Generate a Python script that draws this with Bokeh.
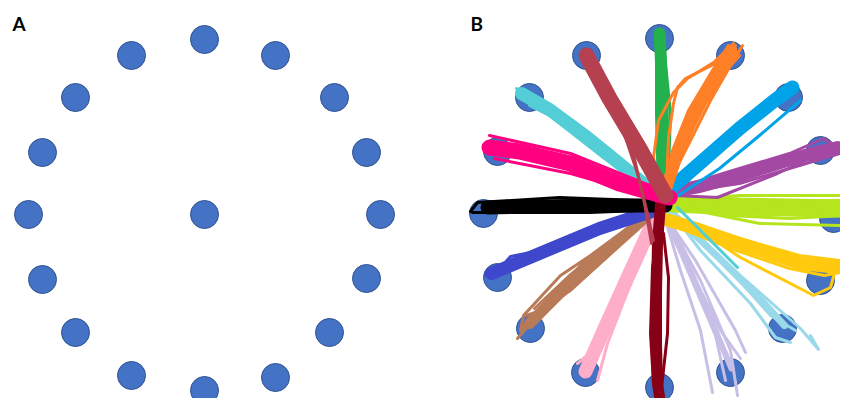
from bokeh.plotting import figure
from bokeh.layouts import row
from bokeh.models import Range1d
from bokeh.core.properties import value
from bokeh.embed import file_html
from bokeh.resources import INLINE

# ---------------- data (pixels relative to the start position, y up) ----------------
panel_labels = ["A", "B"]

target_a_x = [0, 71, 130, 162, 176, 162, 125, 71, 0, -73, -129, -162, -176, -162, -129, -73]
target_a_y = [175, 159, 117, 62, 0, -64, -118, -163, -176, -161, -118, -65, 0, 62, 117, 159]
centre_a_x = [0]
centre_a_y = [0]

target_b_x = [0, 71, 129, 161, 174, 161, 123, 71, 0, -74, -129, -162, -176, -162, -130, -73]
target_b_y = [175, 158, 116, 63, -5, -67, -115, -159, -174, -159, -115, -64, 0, 62, 116, 158]

# each list: first path = dense bundle core, the rest = single trajectories
green = [
    [(4, 10), (4, 63), (3, 113), (1, 163), (0, 180)],
    [(-1, 15), (-3, 100), (-3, 170), (-2, 183)],
    [(8, 15), (11, 100), (6, 150), (3, 178)],
]
orange = [
    [(7, 26), (19, 63), (36, 103), (57, 140), (72, 162)],
    [(8, 28), (21, 63), (41, 103), (61, 138), (76, 165)],
    [(6, 28), (13, 63), (29, 103), (53, 143), (69, 168)],
    [(9, 30), (31, 73), (51, 113), (71, 148), (83, 168)],
    [(1, 13), (-6, 56), (-1, 93), (14, 121), (28, 135), (54, 151), (74, 170)],
    [(7, 28), (9, 76), (14, 110), (18, 126), (26, 135), (58, 151), (76, 168)],
    [(10, 24), (26, 70), (46, 110), (66, 142), (80, 158)],
]
blue = [
    [(9, 23), (40, 50), (80, 85), (115, 113), (133, 126)],
    [(11, 13), (60, 45), (100, 78), (141, 113)],
    [(8, 28), (50, 65), (100, 100), (125, 123), (137, 130)],
]
purple = [
    [(11, 22), (40, 27), (74, 36), (124, 52), (160, 62), (178, 66)],
    [(15, 18), (58, 16), (118, 40), (150, 55)],
    [(12, 24), (70, 42), (130, 60), (164, 75), (172, 70)],
    [(12, 20), (80, 30), (140, 48), (180, 60)],
]
lime = [
    [(14, 10), (80, 7), (185, 5)],
    [(14, 13), (80, 18), (185, 18)],
    [(14, 11), (80, 12), (185, 13)],
    [(14, 9), (70, -2), (130, -5), (185, -2)],
    [(16, 7), (100, -10), (185, -12)],
]
yellow = [
    [(3, -5), (30, -13), (74, -28), (141, -50), (178, -54)],
    [(3, -5), (60, -30), (81, -44), (154, -82), (171, -74), (176, -56)],
    [(5, -3), (70, -22), (140, -42), (180, -47)],
    [(4, -8), (74, -36), (130, -55), (165, -62), (181, -59)],
]
lightblue = [
    [(9, 4), (60, -45), (100, -85), (125, -112)],
    [(9, 5), (61, -45), (106, -92), (126, -114)],
    [(9, 5), (41, -37), (91, -90), (116, -124), (131, -129)],
    [(9, 5), (81, -62), (141, -115), (159, -136), (151, -122)],
    [(7, 3), (71, -57), (111, -102), (136, -117)],
]
lavender = [
    [(5, -2), (30, -55), (55, -115), (72, -155)],
    [(4, 0), (31, -57), (61, -117), (81, -145)],
    [(4, 0), (21, -57), (41, -117), (53, -179)],
    [(6, -2), (41, -67), (71, -137), (78, -182)],
    [(4, 0), (36, -47), (76, -117), (86, -139)],
    [(5, -1), (26, -52), (56, -122), (66, -167)],
]
darkred = [
    [(1, 10), (-2, -30), (-3, -80), (-3, -130), (-2, -170), (0, -183)],
    [(-2, -20), (-7, -54), (-9, -120), (-6, -170), (0, -185)],
    [(4, -20), (9, -64), (8, -120), (1, -184)],
]
pink = [
    [(-4, -3), (-30, -60), (-55, -115), (-74, -158)],
    [(-2, 0), (-25, -60), (-52, -130), (-62, -167)],
    [(-6, -3), (-40, -75), (-70, -140), (-82, -150)],
]
brown = [
    [(-12, -2), (-60, -45), (-100, -80), (-130, -110)],
    [(-11, 0), (-59, -37), (-94, -72), (-129, -105), (-139, -117)],
    [(-14, -2), (-79, -52), (-114, -92), (-142, -125)],
    [(-11, 0), (-54, -45), (-89, -77), (-124, -99), (-134, -102)],
    [(-19, -5), (-69, -42), (-99, -62), (-136, -102), (-139, -117)],
    [(-10, 2), (-50, -30), (-90, -62), (-125, -95)],
]
indigo = [
    [(-8, 2), (-60, -15), (-120, -40), (-168, -60)],
    [(-9, 3), (-59, -12), (-119, -35), (-159, -52), (-174, -62)],
    [(-9, 1), (-69, -19), (-129, -45), (-164, -62)],
    [(-14, 3), (-59, -12), (-119, -37), (-149, -43), (-157, -52), (-172, -62)],
]
black = [
    [(6, 8), (-60, 8), (-120, 7), (-172, 6)],
    [(6, 12), (-100, 16), (-182, 11), (-189, 2)],
    [(6, 4), (-70, 1), (-160, 1), (-187, 1)],
]
cyan = [
    [(-2, 18), (-40, 50), (-72, 76), (-110, 104), (-138, 120)],
    [(-4, 22), (-60, 70), (-120, 113), (-143, 125)],
    [(0, 15), (-55, 55), (-110, 98), (-130, 108)],
    [(18, 6), (78, -54)],
]
magenta = [
    [(10, 16), (-40, 30), (-89, 50), (-140, 62), (-170, 66)],
    [(10, 20), (-89, 60), (-170, 78)],
    [(10, 12), (-89, 40), (-165, 55)],
]
rose = [
    [(6, 18), (-20, 65), (-50, 115), (-73, 158)],
    [(-73, 158), (-52, 123), (-32, 70), (-22, 40), (-12, 0), (-6, -27)],
    [(-70, 155), (-45, 105), (-25, 55), (-15, 10), (-8, -30)],
    [(-78, 160), (-55, 120), (-20, 60), (4, 20)],
]

# ---------------- styles ----------------
TARGET_FILL = "#4472C4"
TARGET_LINE = "#2F528F"
bundles = [  # (paths, colour, core width) in drawing order
    (lavender, "#C8BFE7", 6),
    (lightblue, "#99D9EA", 7),
    (yellow, "#FFC90E", 13),
    (lime, "#B5E61D", 18),
    (purple, "#A349A4", 13),
    (blue, "#00A2E8", 14),
    (green, "#22B14C", 12),
    (orange, "#FF7F27", 12),
    (pink, "#FFAEC9", 14),
    (brown, "#B97A57", 11),
    (indigo, "#3F48CC", 13),
    (black, "#000000", 14),
    (darkred, "#880015", 11),
    (cyan, "#54CED6", 13),
    (magenta, "#FF0080", 16),
    (rose, "#B5404F", 16),
]

H = 398
WA, WB = 459, 381


def base_fig(w, xr, yr):
    p = figure(width=w, height=H, x_range=Range1d(*xr), y_range=Range1d(*yr),
               output_backend="svg", toolbar_location=None, min_border=0,
               background_fill_color="white", border_fill_color="white")
    p.axis.visible = False
    p.grid.visible = False
    p.outline_line_color = None
    return p


pa = base_fig(WA, (-204, WA - 204), (214 - H, 214))
pa.scatter(target_a_x + centre_a_x, target_a_y + centre_a_y, size=28,
           fill_color=TARGET_FILL, line_color=TARGET_LINE, line_width=1)
pa.text(x=[-192], y=[203], text=[panel_labels[0]], text_font=value("Lato"),
        text_font_style="bold", text_font_size="19px", text_baseline="top",
        text_align="left", text_color="black")

pb = base_fig(WB, (-200, WB - 200), (213 - H, 213))
pb.scatter(target_b_x, target_b_y, size=28,
           fill_color=TARGET_FILL, line_color=TARGET_LINE, line_width=1)
for paths, col, w in bundles:
    core = paths[0]
    pb.line([q[0] for q in core], [q[1] for q in core], line_color=col,
            line_width=w, line_cap="round", line_join="round")
    strands = paths[1:]
    pb.multi_line([[q[0] for q in s] for s in strands],
                  [[q[1] for q in s] for s in strands],
                  line_color=col, line_width=3, line_cap="round", line_join="round")
pb.text(x=[-189], y=[202], text=[panel_labels[1]], text_font=value("Lato"),
        text_font_style="bold", text_font_size="19px", text_baseline="top",
        text_align="left", text_color="black")

layout = row(pa, pb)
open("out.html", "w").write(file_html(layout, INLINE))
